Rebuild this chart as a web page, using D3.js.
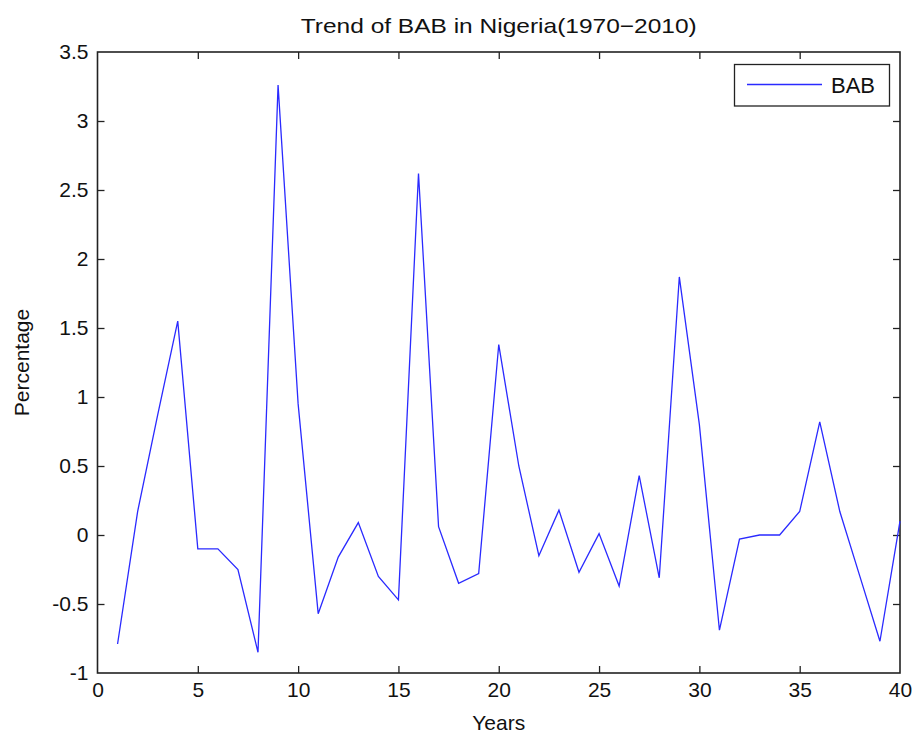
<!DOCTYPE html>
<html>
<head>
<meta charset="utf-8">
<script src="https://cdn.jsdelivr.net/npm/d3@7"></script>
<style>
  html, body { margin: 0; padding: 0; background: #fff; }
  svg { display: block; }
  text { font-family: "Liberation Sans", Arial, sans-serif; fill: #111; }
</style>
</head>
<body>
<svg id="chart" width="917" height="735"></svg>
<script>
// BAB percentage by year index (1 = 1970 ... 40 = 2009)
const years = d3.range(1, 41);
const babValues = [
  -0.79, 0.17, 0.87, 1.55, -0.10, -0.10, -0.25, -0.85, 3.26, 0.95,
  -0.57, -0.16, 0.09, -0.30, -0.47, 2.62, 0.06, -0.35, -0.28, 1.38,
  0.50, -0.15, 0.18, -0.27, 0.01, -0.37, 0.43, -0.31, 1.87, 0.80,
  -0.69, -0.03, 0.00, 0.00, 0.17, 0.82, 0.17, -0.30, -0.77, 0.10
];
const xTicks = [0, 5, 10, 15, 20, 25, 30, 35, 40];
const yTicks = [-1, -0.5, 0, 0.5, 1, 1.5, 2, 2.5, 3, 3.5];
const chartTitle = "Trend of BAB in Nigeria(1970\u22122010)";
const xLabel = "Years";
const yLabel = "Percentage";
const seriesName = "BAB";

const svg = d3.select("#chart");
const m = { left: 97.5, right: 900, top: 52, bottom: 673 };

const x = d3.scaleLinear().domain([0, 40]).range([m.left, m.right]);
const y = d3.scaleLinear().domain([-1, 3.5]).range([m.bottom, m.top]);

const tickLen = 7;

// Bottom and top axes (ticks pointing inward)
const gBottom = svg.append("g").attr("transform", `translate(0,${m.bottom})`)
  .call(d3.axisBottom(x).tickValues(xTicks).tickSizeInner(-tickLen).tickSizeOuter(0).tickPadding(9).tickFormat(d3.format("d")));
const gTop = svg.append("g").attr("transform", `translate(0,${m.top})`)
  .call(d3.axisTop(x).tickValues(xTicks).tickSizeInner(-tickLen).tickSizeOuter(0).tickFormat(""));
const gLeft = svg.append("g").attr("transform", `translate(${m.left},0)`)
  .call(d3.axisLeft(y).tickValues(yTicks).tickSizeInner(-tickLen).tickSizeOuter(0).tickPadding(9).tickFormat(d => String(d)));
const gRight = svg.append("g").attr("transform", `translate(${m.right},0)`)
  .call(d3.axisRight(y).tickValues(yTicks).tickSizeInner(-tickLen).tickSizeOuter(0).tickFormat(""));

[gBottom, gTop, gLeft, gRight].forEach(g => {
  g.select(".domain").remove();
  g.selectAll(".tick line").attr("stroke", "#222").attr("stroke-width", 1.3);
  g.selectAll(".tick text").attr("font-size", 21).attr("fill", "#111")
    .style("font-family", "'Liberation Sans', Arial, sans-serif");
});
// Trim the inward ticks at the plot corners so they don't double the frame
gBottom.selectAll(".tick").filter(d => d === 0 || d === 40).select("line").remove();
gTop.selectAll(".tick").filter(d => d === 0 || d === 40).select("line").remove();
gLeft.selectAll(".tick").filter(d => d === -1 || d === 3.5).select("line").remove();
gRight.selectAll(".tick").filter(d => d === -1 || d === 3.5).select("line").remove();
gBottom.selectAll(".tick text").attr("dy", "0.72em");

// Plot frame
svg.append("rect")
  .attr("x", m.left).attr("y", m.top)
  .attr("width", m.right - m.left).attr("height", m.bottom - m.top)
  .attr("fill", "none").attr("stroke", "#222").attr("stroke-width", 1.6);

// Data line
const line = d3.line().x((d, i) => x(years[i])).y(d => y(d));
svg.append("path")
  .datum(babValues)
  .attr("d", line)
  .attr("fill", "none")
  .attr("stroke", "#2a2aff")
  .attr("stroke-width", 1.3)
  .attr("stroke-linejoin", "miter");

// Title and axis labels
svg.append("text")
  .attr("x", (m.left + m.right) / 2).attr("y", 33)
  .attr("text-anchor", "middle").attr("font-size", 21)
  .attr("textLength", 396).attr("lengthAdjust", "spacingAndGlyphs")
  .text(chartTitle);
svg.append("text")
  .attr("x", (m.left + m.right) / 2).attr("y", 730)
  .attr("text-anchor", "middle").attr("font-size", 21)
  .text(xLabel);
svg.append("text")
  .attr("transform", `translate(29,${(m.top + m.bottom) / 2}) rotate(-90)`)
  .attr("text-anchor", "middle").attr("font-size", 21)
  .text(yLabel);

// Legend
const lg = svg.append("g");
lg.append("rect")
  .attr("x", 734.5).attr("y", 64.5).attr("width", 155).attr("height", 41.5)
  .attr("fill", "#fff").attr("stroke", "#222").attr("stroke-width", 1.3);
lg.append("line")
  .attr("x1", 747).attr("x2", 822).attr("y1", 84.5).attr("y2", 84.5)
  .attr("stroke", "#2a2aff").attr("stroke-width", 1.3);
lg.append("text")
  .attr("x", 831).attr("y", 93).attr("font-size", 22)
  .text(seriesName);
</script>
</body>
</html>
